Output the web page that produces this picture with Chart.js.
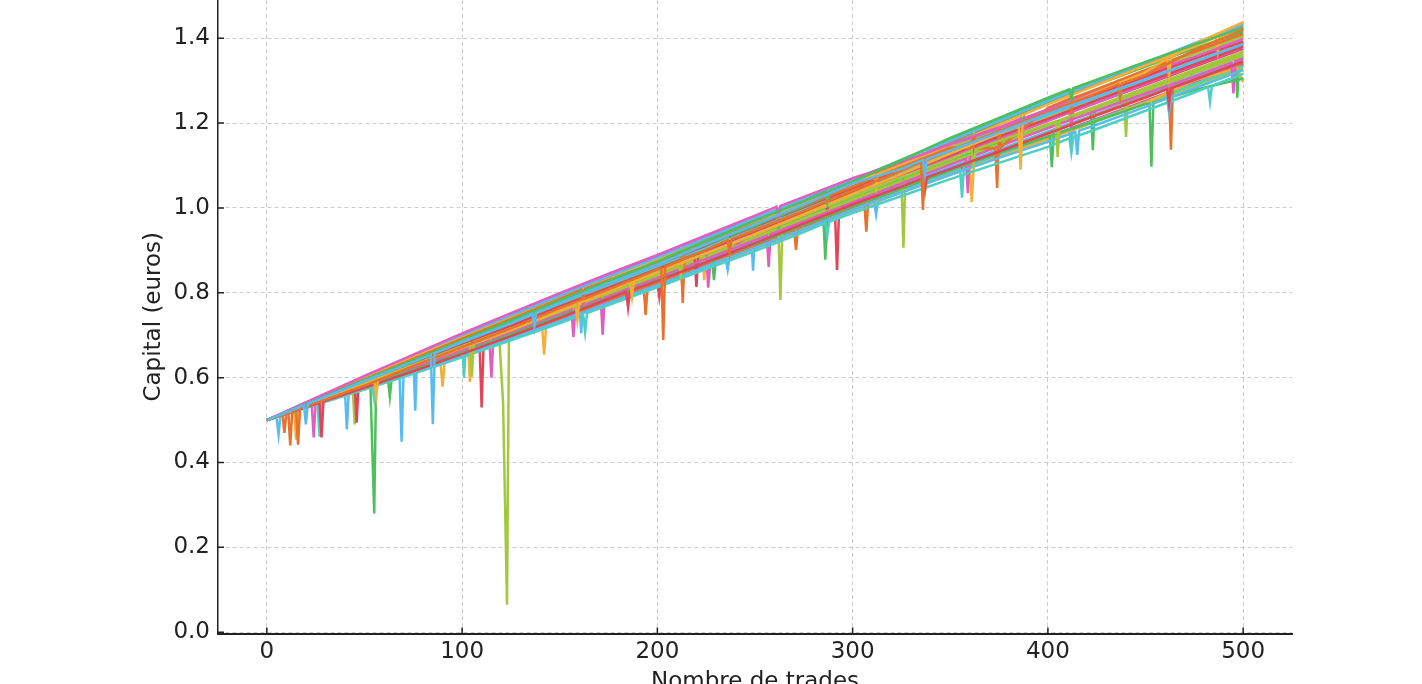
<!DOCTYPE html>
<html>
<head>
<meta charset="utf-8">
<script src="https://cdn.jsdelivr.net/npm/chart.js@4"></script>
<style>
html,body{margin:0;padding:0;background:#fff;overflow:hidden;}
canvas{display:block;}
</style>
</head>
<body>
<canvas id="c" width="1422" height="720"></canvas>
<script>
// x positions (trade number) where each simulated path was read
const trades = [0,25,50,75,100,125,150,175,200,225,250,275,300,325,350,375,400,425,450,475,500];

// capital (euros) per path, read at the trades above
const s0  = [0.5,0.546,0.592,0.637,0.684,0.728,0.776,0.822,0.866,0.915,0.961,1.008,1.058,1.092,1.135,1.178,1.222,1.262,1.303,1.345,1.386];
const s1  = [0.5,0.540,0.581,0.627,0.672,0.716,0.764,0.808,0.855,0.901,0.948,0.993,1.041,1.088,1.135,1.180,1.226,1.270,1.313,1.372,1.420];
const s2  = [0.5,0.547,0.595,0.641,0.688,0.735,0.782,0.828,0.874,0.922,0.970,1.016,1.062,1.112,1.165,1.212,1.260,1.302,1.344,1.385,1.425];
const s3  = [0.5,0.542,0.584,0.628,0.670,0.712,0.758,0.803,0.848,0.893,0.938,0.985,1.033,1.080,1.128,1.176,1.225,1.272,1.320,1.386,1.438];
const s4  = [0.5,0.552,0.604,0.654,0.704,0.752,0.799,0.845,0.889,0.936,0.982,1.026,1.070,1.108,1.150,1.190,1.232,1.274,1.318,1.356,1.398];
const s5  = [0.5,0.538,0.576,0.615,0.656,0.698,0.741,0.786,0.828,0.872,0.917,0.963,1.008,1.050,1.092,1.133,1.175,1.218,1.260,1.302,1.345];
const s6  = [0.5,0.543,0.587,0.630,0.674,0.716,0.761,0.805,0.848,0.893,0.937,0.983,1.027,1.072,1.115,1.158,1.198,1.240,1.283,1.326,1.368];
const s7  = [0.5,0.536,0.572,0.609,0.648,0.688,0.728,0.771,0.813,0.856,0.898,0.943,0.988,1.028,1.068,1.106,1.144,1.186,1.229,1.272,1.316];
const s8  = [0.5,0.538,0.574,0.612,0.651,0.692,0.733,0.776,0.818,0.862,0.905,0.950,0.995,1.036,1.078,1.118,1.156,1.196,1.238,1.282,1.325];
const s9  = [0.5,0.548,0.596,0.644,0.692,0.738,0.785,0.830,0.872,0.918,0.962,1.006,1.050,1.096,1.142,1.188,1.236,1.280,1.325,1.368,1.410];
const s10 = [0.5,0.539,0.579,0.618,0.659,0.702,0.744,0.787,0.830,0.872,0.915,0.960,1.004,1.046,1.089,1.130,1.168,1.205,1.245,1.278,1.305];
const s11 = [0.5,0.550,0.600,0.648,0.694,0.740,0.786,0.832,0.877,0.922,0.966,1.010,1.056,1.102,1.148,1.196,1.244,1.290,1.336,1.380,1.425];
const s12 = [0.5,0.541,0.582,0.622,0.664,0.706,0.749,0.792,0.835,0.880,0.924,0.968,1.013,1.058,1.102,1.145,1.188,1.229,1.270,1.310,1.352];
const s13 = [0.5,0.544,0.589,0.634,0.678,0.722,0.768,0.812,0.856,0.900,0.945,0.990,1.036,1.080,1.124,1.168,1.210,1.254,1.296,1.338,1.380];
const s14 = [0.5,0.540,0.580,0.622,0.664,0.707,0.750,0.794,0.838,0.882,0.926,0.971,1.016,1.060,1.103,1.146,1.188,1.232,1.275,1.318,1.358];
const s15 = [0.5,0.545,0.590,0.636,0.682,0.726,0.771,0.816,0.860,0.905,0.950,0.995,1.040,1.085,1.130,1.174,1.218,1.260,1.302,1.343,1.385];
const s16 = [0.5,0.551,0.601,0.651,0.700,0.747,0.793,0.838,0.882,0.929,0.976,1.020,1.066,1.112,1.158,1.205,1.252,1.297,1.342,1.388,1.432];
const s17 = [0.5,0.537,0.575,0.614,0.654,0.695,0.737,0.780,0.823,0.868,0.912,0.957,1.002,1.046,1.090,1.133,1.176,1.220,1.262,1.303,1.342];
const s18 = [0.5,0.546,0.593,0.640,0.686,0.732,0.778,0.824,0.869,0.914,0.958,1.004,1.052,1.100,1.150,1.198,1.246,1.290,1.333,1.376,1.415];
const s19 = [0.5,0.536,0.573,0.611,0.650,0.690,0.732,0.774,0.817,0.861,0.904,0.948,0.993,1.036,1.078,1.120,1.162,1.205,1.248,1.300,1.296];
const s20 = [0.5,0.546,0.592,0.638,0.682,0.726,0.771,0.815,0.858,0.903,0.948,0.992,1.035,1.078,1.120,1.162,1.205,1.248,1.292,1.336,1.378];
const s21 = [0.5,0.547,0.594,0.641,0.686,0.731,0.776,0.821,0.865,0.910,0.955,1.000,1.045,1.090,1.135,1.180,1.225,1.268,1.310,1.352,1.392];
const s22 = [0.5,0.541,0.583,0.625,0.667,0.710,0.754,0.798,0.842,0.886,0.930,0.975,1.020,1.064,1.108,1.150,1.192,1.235,1.278,1.320,1.362];
const s23 = [0.5,0.537,0.575,0.613,0.652,0.693,0.735,0.778,0.820,0.864,0.908,0.952,0.997,1.040,1.083,1.125,1.166,1.208,1.250,1.292,1.334];
const s24 = [0.5,0.543,0.586,0.630,0.673,0.717,0.762,0.806,0.851,0.896,0.941,0.986,1.031,1.076,1.120,1.164,1.208,1.252,1.296,1.340,1.383];
const s25 = [0.5,0.549,0.598,0.646,0.695,0.742,0.789,0.835,0.880,0.926,0.971,1.015,1.060,1.106,1.153,1.200,1.248,1.294,1.340,1.385,1.428];
const s26 = [0.5,0.542,0.585,0.627,0.669,0.712,0.756,0.800,0.844,0.889,0.933,0.978,1.023,1.067,1.111,1.154,1.196,1.238,1.280,1.322,1.364];
const s27 = [0.5,0.544,0.588,0.632,0.676,0.720,0.765,0.809,0.853,0.898,0.943,0.988,1.033,1.078,1.123,1.168,1.213,1.257,1.302,1.347,1.392];
const s28 = [0.5,0.551,0.602,0.652,0.701,0.749,0.796,0.842,0.886,0.932,0.977,1.020,1.064,1.106,1.148,1.188,1.228,1.268,1.308,1.348,1.388];
const s29 = [0.5,0.539,0.578,0.617,0.657,0.698,0.739,0.781,0.823,0.866,0.909,0.953,0.998,1.041,1.084,1.126,1.168,1.210,1.252,1.295,1.338];
const s30 = [0.5,0.548,0.595,0.642,0.689,0.734,0.780,0.826,0.871,0.916,0.961,1.006,1.052,1.098,1.143,1.188,1.232,1.276,1.319,1.362,1.404];
const s31 = [0.5,0.547,0.594,0.640,0.686,0.731,0.777,0.822,0.866,0.911,0.956,1.001,1.047,1.094,1.140,1.186,1.232,1.276,1.320,1.364,1.408];
const s32 = [0.5,0.540,0.581,0.622,0.663,0.705,0.748,0.791,0.834,0.878,0.922,0.966,1.010,1.053,1.096,1.138,1.180,1.222,1.265,1.308,1.350];
const s33 = [0.5,0.545,0.590,0.634,0.679,0.724,0.769,0.813,0.857,0.901,0.946,0.991,1.037,1.082,1.126,1.170,1.214,1.258,1.302,1.346,1.390];
const s34 = [0.5,0.549,0.598,0.646,0.694,0.741,0.788,0.834,0.879,0.925,0.972,1.018,1.065,1.114,1.162,1.210,1.257,1.300,1.343,1.386,1.428];
const s35 = [0.5,0.547,0.593,0.639,0.685,0.730,0.775,0.820,0.864,0.909,0.954,0.999,1.044,1.090,1.137,1.184,1.231,1.276,1.321,1.366,1.410];
const s36 = [0.5,0.539,0.579,0.619,0.660,0.702,0.745,0.789,0.832,0.876,0.920,0.964,1.009,1.052,1.094,1.136,1.178,1.220,1.262,1.304,1.346];
const s37 = [0.5,0.543,0.587,0.631,0.675,0.719,0.764,0.808,0.852,0.897,0.942,0.987,1.032,1.076,1.120,1.163,1.206,1.248,1.290,1.333,1.375];
const s38 = [0.5,0.537,0.574,0.612,0.651,0.691,0.733,0.776,0.819,0.863,0.907,0.951,0.996,1.038,1.080,1.122,1.163,1.204,1.246,1.288,1.330];
const s39 = [0.5,0.541,0.582,0.624,0.666,0.709,0.752,0.796,0.840,0.884,0.928,0.973,1.018,1.062,1.105,1.148,1.190,1.232,1.274,1.316,1.358];

const paths = [s0,s1,s2,s3,s4,s5,s6,s7,s8,s9,s10,s11,s12,s13,s14,s15,s16,s17,s18,s19,
               s20,s21,s22,s23,s24,s25,s26,s27,s28,s29,s30,s31,s32,s33,s34,s35,s36,s37,s38,s39];

// extra readings around the drawdowns: [path index, trade, capital]
const drawdowns = [
 [8,5,0.506],[8,6,0.466],[8,7,0.511],
 [0,19,0.535],[0,20,0.49],[0,21,0.539],
 [24,40,0.569],[24,41,0.478],[24,42,0.572],
 [8,68,0.602],[8,69,0.449],[8,70,0.605],
 [16,76,0.522],[16,77,0.654],
 [0,84,0.654],[0,85,0.49],[0,86,0.658],
 [24,160,0.780],[24,161,0.705],[24,162,0.783],
 [8,235,0.880],[8,236,0.854],[8,237,0.883],
 [24,248,0.938],[24,249,0.852],
 [8,414,1.179],[8,415,1.125],[8,416,1.182],
 [1,11,0.518],[1,12,0.44],[1,13,0.521],
 [17,15,0.522],[17,16,0.442],[17,17,0.526],
 [9,8,0.515],[9,9,0.47],[9,10,0.519],
 [17,193,0.812],[17,194,0.748],[17,195,0.815],
 [1,202,0.858],[1,203,0.689],[1,204,0.861],
 [9,212,0.895],[9,213,0.776],[9,214,0.898],
 [17,270,0.949],[17,271,0.901],[17,272,0.952],
 [17,306,1.013],[17,307,0.944],[17,308,1.016],
 [1,335,1.108],[1,336,0.995],[1,337,1.111],
 [9,373,1.140],[9,374,1.047],[9,376,1.144],
 [17,462,1.281],[17,463,1.137],[17,464,1.285],
 [26,53,0.590],[26,55,0.28],[26,56,0.596],
 [10,62,0.598],[10,63,0.555],[10,64,0.601],
 [10,228,0.878],[10,229,0.83],[10,230,0.881],
 [10,285,0.977],[10,286,0.878],[10,287,0.981],
 [10,401,1.170],[10,402,1.096],[10,403,1.173],
 [26,422,1.232],[26,423,1.136],[26,424,1.236],
 [10,452,1.246],[10,453,1.097],[10,454,1.248],
 [26,496,1.357],[26,497,1.26],[26,498,1.360],
 [19,14,0.520],[19,15,0.454],[19,16,0.524],
 [3,55,0.593],[3,56,0.555],[3,57,0.597],
 [19,89,0.633],[19,90,0.579],[19,91,0.636],
 [27,103,0.682],[27,104,0.59],[27,105,0.685],
 [19,141,0.718],[19,142,0.654],[19,143,0.721],
 [3,158,0.773],[3,159,0.736],[3,160,0.776],
 [27,223,0.895],[27,224,0.83],[27,226,0.899],
 [19,360,1.094],[19,361,1.014],[19,362,1.098],
 [3,385,1.196],[3,386,1.09],[3,387,1.200],
 [19,497,1.330],
 [12,23,0.538],[12,24,0.459],[12,26,0.543],
 [12,114,0.687],[12,115,0.60],[12,116,0.691],
 [12,156,0.760],[12,157,0.696],[12,158,0.763],
 [12,171,0.786],[12,172,0.701],[12,173,0.789],
 [20,226,0.812],[20,227,0.862],
 [12,256,0.935],[12,257,0.861],[12,258,0.938],
 [12,358,1.116],[12,359,1.035],[12,360,1.119],
 [12,494,1.342],[12,495,1.27],[12,496,1.346],
 [5,27,0.540],[5,28,0.459],[5,29,0.544],
 [13,45,0.580],[13,46,0.494],[13,47,0.584],
 [29,109,0.671],[29,110,0.53],[29,111,0.675],
 [5,184,0.802],[5,185,0.765],[5,186,0.805],
 [29,201,0.79],[29,202,0.827],
 [13,219,0.890],[13,220,0.814],[13,221,0.893],
 [29,291,0.983],[29,292,0.854],[29,293,0.987],
 [22,44,0.572],[22,45,0.49],[22,46,0.575],
 [6,104,0.681],[6,105,0.602],[6,106,0.684],
 [14,119,0.695],[14,120,0.62],[14,121,0.54],[14,123,0.065],[14,124,0.70],
 [14,262,0.947],[14,263,0.783],[14,264,0.951],
 [22,326,0.906],[22,327,1.068],
 [6,404,1.204],[6,405,1.12],[6,406,1.207],
 [22,439,1.259],[22,440,1.167],[22,441,1.262],
 [7,26,0.537],[7,27,0.461],[7,28,0.540],
 [23,54,0.582],[23,55,0.55],[23,56,0.585],
 [15,101,0.60],[15,102,0.685],
 [7,162,0.749],[7,163,0.708],[7,164,0.752],
 [23,355,1.092],[23,356,1.024],[23,357,1.095],
 [7,482,1.285],[7,483,1.25],[7,484,1.288],
 // small spikes
 [0,136,0.751],[0,137,0.72],[0,138,0.753],
 [0,336,1.113],[0,337,1.08],[0,338,1.115],
 [1,236,0.924],[1,237,0.895],[1,238,0.926],
 [1,436,1.291],[1,437,1.262],[1,438,1.293],
 [2,286,1.038],[2,287,1.012],[2,288,1.040],
 [2,411,1.280],[2,412,1.255],[2,413,1.282],
 [3,186,0.825],[3,187,0.79],[3,188,0.827],
 [3,461,1.352],[3,462,1.31],[3,463,1.355],
 [4,261,1.003],[4,262,0.975],[4,263,1.005],
 [4,386,1.210],[4,387,1.18],[4,388,1.212],
 [5,336,1.070],[5,337,1.04],[5,338,1.072],
 [5,461,1.280],[5,462,1.245],[5,463,1.282],
 [6,211,0.870],[6,212,0.84],[6,213,0.872],
 [6,361,1.136],[6,362,1.10],[6,363,1.138],
 [7,286,0.965],[7,287,0.935],[7,288,0.967],
 [7,411,1.164],[7,412,1.13],[7,413,1.166],
 [8,311,1.015],[8,312,0.985],[8,313,1.017],
 [8,461,1.259],[8,462,1.225],[8,463,1.261],
 [9,161,0.807],[9,162,0.78],[9,163,0.809],
 [9,411,1.257],[9,412,1.225],[9,413,1.259],
 [11,311,1.078],[11,312,1.05],[11,313,1.080],
 [11,486,1.402],[11,487,1.37],[11,488,1.404],
 [13,361,1.145],[13,362,1.11],[13,363,1.147],
 [15,236,0.927],[15,237,0.90],[15,238,0.929],
 [15,436,1.280],[15,437,1.25],[15,438,1.282],
 [16,336,1.134],[16,337,1.105],[16,338,1.136],
 [18,261,0.980],[18,262,0.95],[18,263,0.982],
 [18,386,1.221],[18,387,1.19],[18,388,1.223],
 [20,161,0.792],[20,162,0.765],[20,163,0.794],
 [20,411,1.226],[20,412,1.19],[20,413,1.228],
 [21,286,1.022],[21,287,0.99],[21,288,1.024],
 [21,461,1.330],[21,462,1.30],[21,463,1.332],
 [23,411,1.186],[23,412,1.15],[23,413,1.188],
 [25,361,1.176],[25,362,1.14],[25,363,1.178],
 [27,436,1.279],[27,437,1.245],[27,438,1.281],
 [28,211,0.908],[28,212,0.88],[28,213,0.910],
 [30,311,1.074],[30,312,1.04],[30,313,1.076],
 [31,461,1.341],[31,462,1.31],[31,463,1.343]
];

const xTickValues = [0,100,200,300,400,500];
const yTickValues = [0,0.2,0.4,0.6,0.8,1.0,1.2,1.4];
const palette = ['#58bcf2','#e8712b','#4dbf5c','#f5ae36','#e05ec0','#e2455a','#a3c83e','#4ecfc5'];

const datasets = paths.map((vals, i) => {
  const pts = trades.map((t, k) => ({x: t, y: vals[k]}));
  drawdowns.filter(d => d[0] === i).forEach(d => pts.push({x: d[1], y: d[2]}));
  pts.sort((a, b) => a.x - b.x);
  return {
    label: 'Simulation ' + (i + 1),
    data: pts,
    borderColor: palette[i % palette.length],
    backgroundColor: palette[i % palette.length],
    borderWidth: 2.5,
    pointRadius: 0,
    tension: 0,
    fill: false
  };
});

const TXT = '#222222';
const FONT = {family: 'DejaVu Sans', size: 23};

const inwardTicks = {
  id: 'inwardTicks',
  afterDraw(chart) {
    const ctx = chart.ctx, a = chart.chartArea;
    const xs = chart.scales.x, ys = chart.scales.y;
    ctx.save();
    ctx.strokeStyle = TXT;
    ctx.lineWidth = 1.5;
    ctx.beginPath();
    xTickValues.forEach(v => {
      const p = xs.getPixelForValue(v);
      ctx.moveTo(p, a.bottom); ctx.lineTo(p, a.bottom - 6);
    });
    yTickValues.forEach(v => {
      const p = ys.getPixelForValue(v);
      ctx.moveTo(a.left, p); ctx.lineTo(a.left + 6, p);
    });
    ctx.stroke();
    ctx.restore();
  }
};

new Chart(document.getElementById('c'), {
  type: 'line',
  data: {datasets},
  plugins: [inwardTicks],
  options: {
    responsive: false,
    devicePixelRatio: 1,
    animation: false,
    parsing: false,
    normalized: true,
    layout: {padding: {left: 0, right: 130, top: 0, bottom: 0}},
    plugins: {legend: {display: false}, tooltip: {enabled: false}},
    scales: {
      x: {
        type: 'linear',
        min: -25, max: 525,
        afterBuildTicks: s => { s.ticks = xTickValues.map(v => ({value: v})); },
        afterFit: s => { s.height = 86.5; s.paddingLeft = 0; s.paddingRight = 0; },
        grid: {color: '#cccccc', lineWidth: 1, drawTicks: false},
        border: {display: true, color: TXT, width: 2, dash: [4, 3]},
        ticks: {color: TXT, font: FONT, padding: 5, maxRotation: 0, autoSkip: false},
        title: {display: true, text: 'Nombre de trades', color: TXT, font: FONT, padding: {top: 0, bottom: 24}}
      },
      y: {
        type: 'linear',
        min: -0.003, max: 1.49,
        afterBuildTicks: s => { s.ticks = yTickValues.map(v => ({value: v})); },
        afterFit: s => { s.width = 218; s.paddingTop = 0; s.paddingBottom = 0; },
        grid: {color: '#cccccc', lineWidth: 1, drawTicks: false},
        border: {display: true, color: TXT, width: 1.5, dash: [4, 3]},
        ticks: {color: TXT, font: FONT, padding: 8, callback: v => v.toFixed(1)},
        title: {display: true, text: 'Capital (euros)', color: TXT, font: FONT, padding: {top: 140, bottom: 0}}
      }
    }
  }
});
</script>
</body>
</html>
